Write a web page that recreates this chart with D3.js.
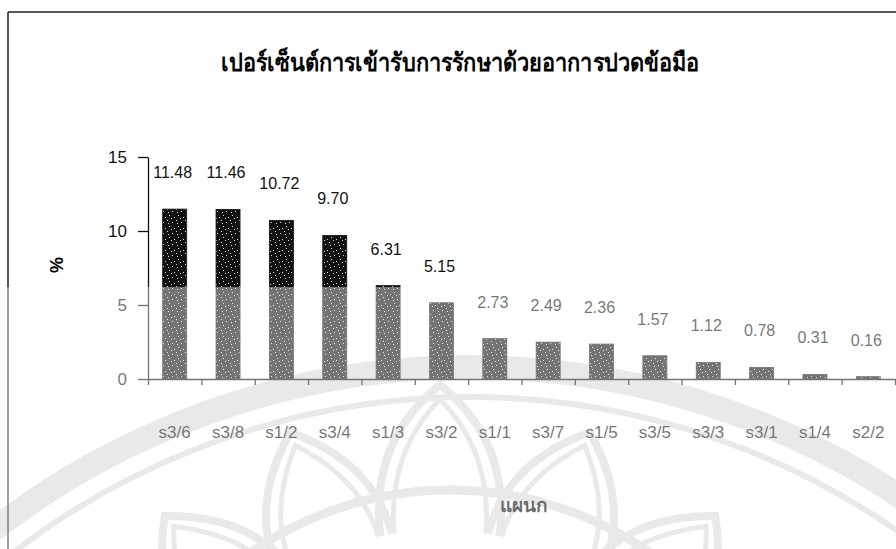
<!DOCTYPE html>
<html>
  <head>
    <meta charset="utf-8">
    <script src="https://d3js.org/d3.v7.min.js"></script>
    <style>
        body { margin: 0; background: white; }
        text { font-family: "Liberation Sans", Arial, sans-serif; }
        .title { font-size: 25px; font-weight: bold; }
        .axis text { font-size: 17px; fill: #111; }
        .axis path, .axis line { stroke: #111; stroke-width: 1.3px; }
        .value { font-size: 16px; fill: #111; }
        .wm { fill: none; stroke: #dadada; }
    </style>
  </head>
  <body>
    <div id="chart"></div>
<script>

      // data
      var categories = ["s3/6", "s3/8", "s1/2", "s3/4", "s1/3", "s3/2", "s1/1",
                        "s3/7", "s1/5", "s3/5", "s3/3", "s3/1", "s1/4", "s2/2"];
      var values = [11.48, 11.46, 10.72, 9.70, 6.31, 5.15, 2.73,
                    2.49, 2.36, 1.57, 1.12, 0.78, 0.31, 0.16];
      var yTicks = [0, 5, 10, 15];
      var titleText = "เปอร์เซ็นต์การเข้ารับการรักษาด้วยอาการปวดข้อมือ";
      var xTitle = "แผนก";
      var yTitle = "%";

      function drawChart() {
        var width = 896, height = 549;
        var left = 148, right = 895, top = 157, bottom = 379;

        var svg = d3.select('#chart').append('svg')
          .attr('width', width)
          .attr('height', height)
          .style('background', 'white');

        // scan speckle texture for the bars
        var pat = svg.append('defs').append('pattern')
          .attr('id', 'speck')
          .attr('width', 9).attr('height', 11)
          .attr('patternUnits', 'userSpaceOnUse');
        pat.append('rect').attr('width', 9).attr('height', 11).attr('fill', '#111');
        [[1, 2], [5, 0], [7, 6], [3, 8], [0, 9], [6, 3]].forEach(function (p) {
          pat.append('rect').attr('x', p[0]).attr('y', p[1])
            .attr('width', 1).attr('height', 1).attr('fill', '#ddd');
        });

        // faint watermark (university logo) behind the lower half
        var wm = svg.append('g');
        wm.append('circle').attr('class', 'wm')
          .attr('cx', 470).attr('cy', 1145).attr('r', 778).attr('stroke-width', 24);
        wm.append('circle').attr('class', 'wm')
          .attr('cx', 470).attr('cy', 1145).attr('r', 748).attr('stroke-width', 6);
        wm.append('circle').attr('class', 'wm')
          .attr('cx', 450).attr('cy', 840).attr('r', 350).attr('stroke-width', 9);
        var cx = 440, cy = 830;
        [0, -0.36, 0.36, -0.72, 0.72, -1.05, 1.05].forEach(function (a) {
          [0, 14].forEach(function (off) {
            var rp = (a === 0 ? 445 : 432 - Math.abs(a) * 20) - off;
            var rb = 300, da = 0.2 - off / 300;
            var pk = [cx + rp * Math.sin(a), cy - rp * Math.cos(a)];
            var b1 = [cx + rb * Math.sin(a - da), cy - rb * Math.cos(a - da)];
            var b2 = [cx + rb * Math.sin(a + da), cy - rb * Math.cos(a + da)];
            var c1 = [cx + (rp - 50) * Math.sin(a - da * 0.9), cy - (rp - 50) * Math.cos(a - da * 0.9)];
            var c2 = [cx + (rp - 50) * Math.sin(a + da * 0.9), cy - (rp - 50) * Math.cos(a + da * 0.9)];
            wm.append('path').attr('class', 'wm')
              .attr('stroke-width', off ? 5 : 8)
              .attr('d', 'M' + b1 + 'Q' + c1 + ' ' + pk + 'Q' + c2 + ' ' + b2);
          });
        });

        // page frame
        svg.append('line').attr('x1', 8).attr('y1', 12).attr('x2', width).attr('y2', 12)
          .attr('stroke', '#222').attr('stroke-width', 1.5);
        svg.append('line').attr('x1', 8).attr('y1', 12).attr('x2', 8).attr('y2', height)
          .attr('stroke', '#222').attr('stroke-width', 1.5);

        svg.append('text')
          .attr('class', 'title')
          .attr('x', 460).attr('y', 71)
          .attr('text-anchor', 'middle')
          .attr('textLength', 478)
          .attr('lengthAdjust', 'spacingAndGlyphs')
          .text(titleText);

        var x = d3.scaleBand()
          .domain(categories)
          .range([left, right])
          .paddingInner(0.55)
          .paddingOuter(0.275);

        var y = d3.scaleLinear()
          .domain([0, 15])
          .range([bottom, top]);

        svg.selectAll('.bar')
          .data(values).enter()
          .append('rect')
          .attr('class', 'bar')
          .attr('x', function (d, i) { return x(categories[i]); })
          .attr('y', function (d) { return y(d); })
          .attr('width', x.bandwidth())
          .attr('height', function (d) { return y(0) - y(d); })
          .attr('fill', 'url(#speck)')
          .attr('stroke', '#111')
          .attr('stroke-width', 0.8);

        svg.selectAll('.value')
          .data(values).enter()
          .append('text')
          .attr('class', 'value')
          .attr('x', function (d, i) { return x(categories[i]) + x.bandwidth() / 2 - 2; })
          .attr('y', function (d) { return y(d) - 31; })
          .attr('text-anchor', 'middle')
          .text(function (d) { return d.toFixed(2); });

        // y axis
        svg.append('g')
          .attr('class', 'axis')
          .attr('transform', 'translate(' + left + ',0)')
          .call(d3.axisLeft(y).tickValues(yTicks).tickSize(10).tickPadding(11).tickSizeOuter(0));

        // x axis: ticks on category boundaries
        var edges = d3.scaleLinear().domain([0, categories.length]).range([left, right]);
        svg.append('g')
          .attr('class', 'axis')
          .attr('transform', 'translate(0,' + bottom + ')')
          .call(d3.axisBottom(edges).tickValues(d3.range(categories.length + 1))
            .tickFormat('').tickSize(6).tickSizeOuter(0));

        var xl = svg.append('g')
          .attr('class', 'axis')
          .attr('transform', 'translate(0,' + bottom + ')')
          .call(d3.axisBottom(x).tickSize(0).tickPadding(47));
        xl.select('.domain').remove();
        xl.selectAll('text').style('font-size', '17px');

        svg.append('text')
          .attr('transform', 'translate(63,265) rotate(-90)')
          .attr('text-anchor', 'middle')
          .style('font-size', '18px').style('font-weight', 'bold')
          .text(yTitle);

        svg.append('text')
          .attr('x', 524).attr('y', 512)
          .attr('text-anchor', 'middle')
          .style('font-size', '19px').style('font-weight', 'bold')
          .text(xTitle);

        // lighter lower part of the scan
        svg.append('rect')
          .attr('x', 0).attr('y', 287)
          .attr('width', width).attr('height', height - 287)
          .attr('fill', 'white').attr('opacity', 0.42);
      };
      drawChart();
    </script>
  </body>
</html>
